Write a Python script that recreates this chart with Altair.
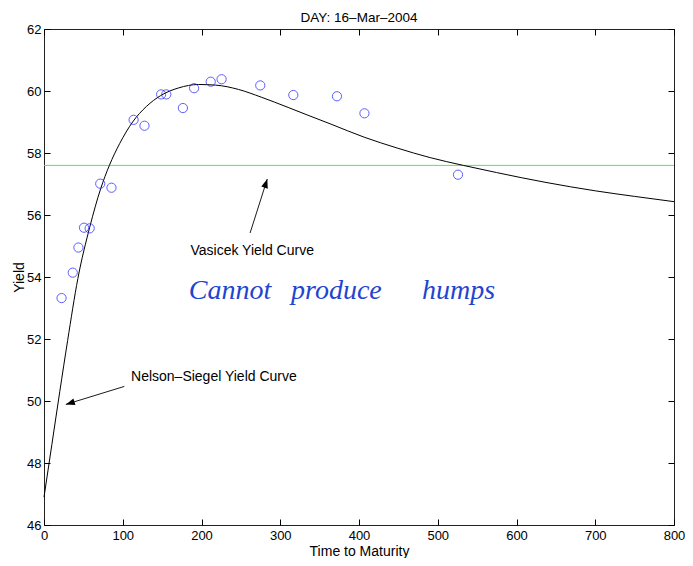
import altair as alt
import pandas as pd

# ---- data ----
maturity = [22.3, 36.5, 43.7, 50.8, 58.0, 71.4, 85.7, 113.8, 127.6, 148.7,
            155.3, 176.4, 190.6, 211.7, 225.5, 274.6, 316.6, 372.0, 406.9, 525.7]
yields = [53.32, 54.14, 54.95, 55.59, 55.57, 57.01, 56.88, 59.07, 58.88, 59.89,
          59.89, 59.45, 60.09, 60.30, 60.38, 60.18, 59.87, 59.83, 59.28, 57.30]

ns_x = [0, 10, 20, 30, 43, 58, 72, 83, 96, 112.5, 130, 148, 171,
        196, 218, 247, 276, 310, 335, 364.5, 406.6, 448.5, 490.5, 532.5,
        574.5, 637.5, 700, 750, 800]
ns_y = [46.9, 48.6, 50.3, 51.95, 53.95, 55.6, 56.85, 57.6, 58.3, 59.0, 59.5, 59.85, 60.1,
        60.21, 60.19, 60.05, 59.8, 59.47, 59.22, 58.93, 58.51, 58.16, 57.85, 57.6,
        57.37, 57.05, 56.78, 56.6, 56.43]

vasicek_level = [57.6]

x_ticks = [0, 100, 200, 300, 400, 500, 600, 700, 800]
y_ticks = [46, 48, 50, 52, 54, 56, 58, 60, 62]

title_text = "DAY: 16\u2013Mar\u20132004"
x_title = "Time to Maturity"
y_title = "Yield"
vas_label = "Vasicek Yield Curve"
ns_label = "Nelson\u2013Siegel Yield Curve"
hand_words = ["Cannot", "produce", "humps"]

# annotation anchors (data coordinates)
vas_arrow = dict(x=261.7, y=55.42, x2=283.5, y2=57.16)
ns_arrow = dict(x=102.0, y=50.47, x2=27.7, y2=49.89)
vas_text_pos = (186.0, 54.84)
ns_text_pos = (110.5, 50.79)
hand_pos_x = [183.9, 313.7, 480.0]
hand_pos_y = 53.28

FONT = "Liberation Sans"
W, H = 630, 496

xs = alt.Scale(domain=[0, 800], nice=False, zero=False)
ys = alt.Scale(domain=[46, 62], nice=False, zero=False)


def axis(orient, values, labels=True, title=None):
    kw = dict(orient=orient, values=values, offset=-6, tickSize=6, domain=False,
              grid=False, tickColor="black", tickWidth=1, labels=labels,
              labelFont=FONT, labelFontSize=13, labelColor="black",
              labelPadding=3 if orient == "left" else 4,
              labelFlush=False, labelOverlap=False)
    if title:
        kw.update(title=title, titleFont=FONT, titleFontSize=14,
                  titleFontWeight="normal", titleColor="black")
        kw.update(titlePadding=2 if orient == "bottom" else 0)
    else:
        kw.update(title=None)
    return alt.Axis(**kw)


pts = pd.DataFrame({"m": maturity, "y": yields})
curve = pd.DataFrame({"m": ns_x, "y": ns_y})
lvl = pd.DataFrame({"y": vasicek_level})

scatter = alt.Chart(pts).mark_point(shape="circle", filled=False, size=85,
                                     color="#1a1aff", strokeWidth=1).encode(
    x=alt.X("m:Q", scale=xs, axis=axis("bottom", x_ticks, True, x_title)),
    y=alt.Y("y:Q", scale=ys, axis=axis("left", y_ticks, True, y_title)),
)

line = alt.Chart(curve).mark_line(color="black", strokeWidth=1,
                                  interpolate="monotone").encode(
    x=alt.X("m:Q", scale=xs, axis=axis("top", x_ticks, False)),
    y=alt.Y("y:Q", scale=ys, axis=axis("right", y_ticks, False)),
)

green = alt.Chart(lvl).mark_rule(color="#33ff33", strokeWidth=1).encode(
    y=alt.Y("y:Q", scale=ys, axis=None)
)

arrows = pd.DataFrame([vas_arrow, ns_arrow])
arrow_lines = alt.Chart(arrows).mark_rule(color="black", strokeWidth=0.9).encode(
    x=alt.X("x:Q", scale=xs, axis=None), y=alt.Y("y:Q", scale=ys, axis=None),
    x2="x2:Q", y2="y2:Q",
)

HEAD = "M0,0L-0.38,1L0.38,1Z"


def head(tip, ang):
    d = pd.DataFrame({"x": [tip[0]], "y": [tip[1]]})
    return alt.Chart(d).mark_point(shape=HEAD, filled=True, color="black",
                                   size=324, angle=ang, opacity=1).encode(
        x=alt.X("x:Q", scale=xs, axis=None), y=alt.Y("y:Q", scale=ys, axis=None))


head1 = head((vas_arrow["x2"], vas_arrow["y2"]), 17.5)
head2 = head((ns_arrow["x2"], ns_arrow["y2"]), 253)


def label(pos, txt, **kw):
    d = pd.DataFrame({"x": [pos[0]], "y": [pos[1]], "t": [txt]})
    return alt.Chart(d).mark_text(align="left", **kw).encode(
        x=alt.X("x:Q", scale=xs, axis=None), y=alt.Y("y:Q", scale=ys, axis=None),
        text="t:N")


t1 = label(vas_text_pos, vas_label, baseline="middle", font=FONT, fontSize=14, color="black")
t2 = label(ns_text_pos, ns_label, baseline="middle", font=FONT, fontSize=14, color="black")

hand = pd.DataFrame({"x": hand_pos_x, "y": [hand_pos_y] * 3, "t": hand_words})
hand_text = alt.Chart(hand).mark_text(align="left", baseline="alphabetic",
                                      font="Liberation Serif", fontStyle="italic",
                                      fontSize=28, color="#1f45d0").encode(
    x=alt.X("x:Q", scale=xs, axis=None), y=alt.Y("y:Q", scale=ys, axis=None),
    text="t:N")

chart = alt.layer(
    green, line, scatter, arrow_lines, head1, head2, t1, t2, hand_text
).resolve_axis(x="independent", y="independent").properties(
    width=W, height=H,
    title=alt.TitleParams(title_text, font=FONT, fontSize=13.5, fontWeight="normal",
                          color="black", anchor="middle", offset=-1),
    autosize=alt.AutoSizeParams(type="none"),
    padding={"left": 36, "top": 21, "right": 11, "bottom": 33},
).configure_view(stroke="#222222", strokeWidth=1)

chart.save("out.html", embed_options={"renderer": "svg", "actions": False})
